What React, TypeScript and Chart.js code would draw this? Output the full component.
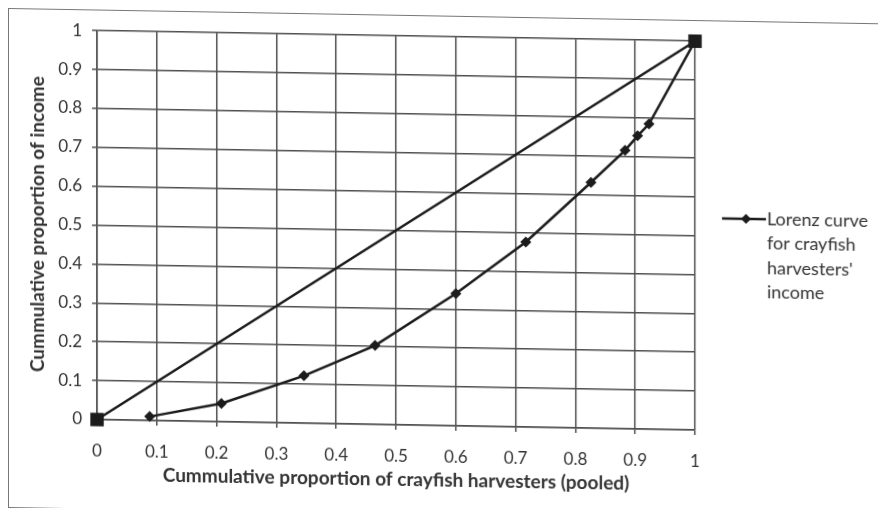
import React, { useEffect, useRef } from 'react';
import { Chart, registerables } from 'chart.js';

Chart.register(...registerables);

const lorenzLabel = "Lorenz curve for crayfish harvesters' income";
const legendLines = ['Lorenz curve', 'for crayfish', "harvesters'", 'income'];
const lorenzX = [0.088, 0.208, 0.346, 0.465, 0.6, 0.717, 0.826, 0.883, 0.904, 0.923, 1];
const lorenzY = [0.01, 0.047, 0.122, 0.203, 0.34, 0.476, 0.632, 0.716, 0.754, 0.785, 1];
const equalityX = [0, 1];
const equalityY = [0, 1];
const tickValues = [0, 0.1, 0.2, 0.3, 0.4, 0.5, 0.6, 0.7, 0.8, 0.9, 1];
const tickLabels = ['0', '0.1', '0.2', '0.3', '0.4', '0.5', '0.6', '0.7', '0.8', '0.9', '1'];
const xTitle = 'Cummulative proportion of crayfish harvesters (pooled)';
const yTitle = 'Cummulative proportion of income';

const FONT = 'Lato, "Open Sans", sans-serif';
const TEXT = '#333333';
const GRID = '#4f4f4f';
const INK = '#1c1c1c';

const legendPlugin = {
  id: 'sideLegend',
  afterDraw(chart: any) {
    const ctx = chart.ctx;
    const area = chart.chartArea;
    const lh = 24.5;
    const y0 = 197;
    const x0 = area.right + 27;
    ctx.save();
    ctx.strokeStyle = INK;
    ctx.lineWidth = 2.5;
    ctx.beginPath();
    ctx.moveTo(x0, y0);
    ctx.lineTo(x0 + 44, y0);
    ctx.stroke();
    ctx.fillStyle = INK;
    ctx.beginPath();
    const cx = x0 + 24;
    const r = 5;
    ctx.moveTo(cx, y0 - r);
    ctx.lineTo(cx + r, y0);
    ctx.lineTo(cx, y0 + r);
    ctx.lineTo(cx - r, y0);
    ctx.closePath();
    ctx.fill();
    ctx.fillStyle = TEXT;
    ctx.font = `18px ${FONT}`;
    ctx.textAlign = 'left';
    ctx.textBaseline = 'middle';
    legendLines.forEach((t, i) => ctx.fillText(t, x0 + 45, y0 + i * lh));
    ctx.restore();
  },
};

export default function App() {
  const ref = useRef<HTMLCanvasElement | null>(null);
  useEffect(() => {
    if (!ref.current) return;
    const setTicks = (s: any) => {
      s.ticks = tickValues.map((v) => ({ value: v }));
    };
    const chart = new Chart(ref.current, {
      type: 'scatter',
      data: {
        datasets: [
          {
            label: 'Equality',
            data: equalityX.map((x, i) => ({ x, y: equalityY[i] })),
            showLine: true,
            borderColor: INK,
            backgroundColor: INK,
            borderWidth: 2.5,
            pointStyle: 'rect',
            pointRadius: 9.5,
            pointBorderWidth: 0,
            clip: false,
          },
          {
            label: lorenzLabel,
            data: lorenzX.map((x, i) => ({ x, y: lorenzY[i] })),
            showLine: true,
            borderColor: INK,
            backgroundColor: INK,
            borderWidth: 2.5,
            pointStyle: 'rectRot',
            pointRadius: 5.5,
            pointBorderWidth: 0,
            clip: false,
          },
        ],
      },
      options: {
        animation: false,
        responsive: false,
        layout: { padding: { top: 20, right: 179, left: 0, bottom: 0 } },
        plugins: { legend: { display: false }, tooltip: { enabled: false } },
        scales: {
          x: {
            type: 'linear',
            min: 0,
            max: 1,
            afterBuildTicks: setTicks,
            afterFit: (s: any) => {
              s.height = 88;
            },
            ticks: {
              callback: (_v: any, i: number) => tickLabels[i],
              font: { family: FONT, size: 17 },
              color: TEXT,
              padding: 16,
              maxRotation: 0,
            },
            grid: { color: GRID, lineWidth: 1.5, tickLength: 5 },
            border: { color: GRID, width: 1.5 },
            title: {
              display: true,
              text: xTitle,
              font: { family: FONT, size: 19, weight: 'bold' },
              color: TEXT,
              padding: { top: 0, bottom: 22 },
            },
          },
          y: {
            type: 'linear',
            min: 0,
            max: 1,
            afterBuildTicks: setTicks,
            afterFit: (s: any) => {
              s.width = 88;
            },
            ticks: {
              callback: (_v: any, i: number) => tickLabels[i],
              font: { family: FONT, size: 17 },
              color: TEXT,
              padding: 10,
            },
            grid: { color: GRID, lineWidth: 1.5, tickLength: 5 },
            border: { color: GRID, width: 1.5 },
            title: {
              display: true,
              text: yTitle,
              font: { family: FONT, size: 19, weight: 'bold' },
              color: TEXT,
              padding: { top: 17, bottom: 0 },
            },
          },
        },
      },
      plugins: [legendPlugin],
    });
    return () => chart.destroy();
  }, []);

  return (
    <div style={{ width: 878, height: 500, overflow: 'hidden' }}>
      <div
        style={{
          width: 884,
          height: 500,
          border: '1.5px solid #777',
          boxSizing: 'border-box',
          background: '#fff',
          transform: 'skewY(1deg)',
          transformOrigin: '0 0',
        }}
      >
        <canvas ref={ref} width={865} height={497} style={{ display: 'block' }} />
      </div>
    </div>
  );
}
